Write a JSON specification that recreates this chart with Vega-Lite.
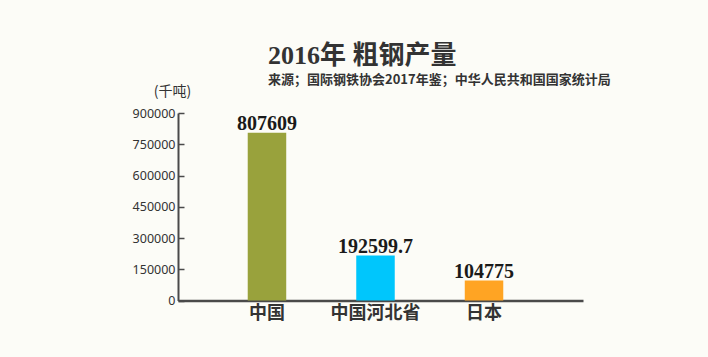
{
  "$schema": "https://vega.github.io/schema/vega-lite/v6.json",
  "width": 405,
  "height": 187.5,
  "autosize": "none",
  "padding": {"left": 178, "top": 113, "right": 125, "bottom": 56.5},
  "background": "#fcfcf7",
  "title": {
    "text": "2016年 粗钢产量",
    "subtitle": "来源；国际钢铁协会2017年鉴；中华人民共和国国家统计局",
    "anchor": "start",
    "frame": "group",
    "dx": 90,
    "offset": -3,
    "font": "Liberation Serif, Noto Sans CJK SC",
    "fontSize": 26,
    "fontWeight": "bold",
    "color": "#333333",
    "subtitleFont": "Noto Sans CJK SC",
    "subtitleFontSize": 13,
    "subtitleFontWeight": "bold",
    "subtitleColor": "#333333",
    "subtitlePadding": 5
  },
  "config": {
    "view": {"stroke": null},
    "axis": {"grid": false}
  },
  "data": {
    "values": [
      {"region": "中国", "value": 805000, "label": "807609"},
      {"region": "中国河北省", "value": 216000, "label": "192599.7"},
      {"region": "日本", "value": 96000, "label": "104775"}
    ]
  },
  "encoding": {
    "x": {
      "field": "region",
      "type": "nominal",
      "sort": null,
      "scale": {"paddingInner": 0, "paddingOuter": 0.366, "align": 0.437},
      "axis": {
        "title": null,
        "labelAngle": 0,
        "labelFont": "Noto Sans CJK SC",
        "labelFontSize": 18,
        "labelFontWeight": "bold",
        "labelColor": "#333333",
        "labelPadding": 4,
        "ticks": false,
        "domainColor": "#4a4a4a",
        "domainWidth": 2.5
      }
    },
    "y": {
      "field": "value",
      "type": "quantitative",
      "scale": {"domain": [0, 900000]},
      "axis": {
        "values": [0, 150000, 300000, 450000, 600000, 750000, 900000],
        "format": "d",
        "title": "(千吨)",
        "titleAngle": 0,
        "titleAlign": "center",
        "titleBaseline": "middle",
        "titleX": -6,
        "titleY": -22,
        "titleFont": "Noto Sans CJK SC",
        "titleFontSize": 14,
        "titleFontWeight": "normal",
        "titleColor": "#333333",
        "labelFont": "Noto Sans",
        "labelFontSize": 12.5,
        "labelColor": "#333333",
        "labelPadding": 9,
        "tickSize": -6,
        "tickColor": "#4a4a4a",
        "tickWidth": 1.5,
        "domainColor": "#4a4a4a",
        "domainWidth": 2
      }
    }
  },
  "layer": [
    {
      "mark": {"type": "bar", "size": 38.5},
      "encoding": {
        "color": {
          "field": "region",
          "type": "nominal",
          "sort": null,
          "scale": {"range": ["#99a23c", "#00c6fc", "#ffa423"]},
          "legend": null
        }
      }
    },
    {
      "mark": {
        "type": "text",
        "baseline": "alphabetic",
        "dy": -3,
        "font": "Liberation Serif",
        "fontSize": 20,
        "fontWeight": "bold",
        "color": "#1a1a1a"
      },
      "encoding": {"text": {"field": "label"}}
    }
  ]
}
